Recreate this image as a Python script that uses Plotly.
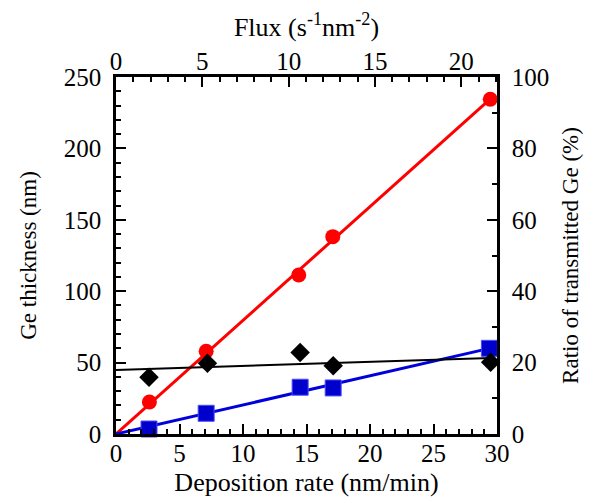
import numpy as np
import plotly.graph_objects as go

# Deposition rate (nm/min) for each sample
rate_thick = [2.63, 7.1, 14.39, 17.07, 29.47]
ge_thickness = [22.4, 57.9, 111.3, 138.2, 234.4]          # nm (left axis)

rate_blue = [2.6, 7.1, 14.5, 17.1, 29.4]
blue_ratio = [1.4, 5.8, 13.1, 12.9, 24.0]                 # % (right axis)

rate_black = [2.6, 7.2, 14.5, 17.1, 29.5]
black_ratio = [15.9, 19.8, 22.8, 19.1, 20.1]              # % (right axis)

flux_max = 22.07   # top axis range matching 30 nm/min
fit_x = [0, 29.5]

# fits
xr = np.array(rate_thick); yr = np.array(ge_thickness)
k_red = (xr * yr).sum() / (xr * xr).sum()
xb = np.array(rate_blue); yb = np.array(blue_ratio)
k_blue = (xb * yb).sum() / (xb * xb).sum()
p_black = np.polyfit(rate_black, black_ratio, 1)
fx = np.array(fit_x)

FONT = "Liberation Serif, Times New Roman, Times, serif"
HS = 25   # horizontal text size
TS = 26   # horizontal title size
VS = 23   # vertical title size
fig = go.Figure()

fig.add_trace(go.Scatter(x=fx, y=k_red * fx, mode="lines",
                         line=dict(color="#ff0000", width=3), yaxis="y", showlegend=False))
fig.add_trace(go.Scatter(x=fx, y=k_blue * fx, mode="lines",
                         line=dict(color="#0000dd", width=3), yaxis="y2", showlegend=False))
fig.add_trace(go.Scatter(x=fx, y=np.polyval(p_black, fx), mode="lines",
                         line=dict(color="#000000", width=2), yaxis="y2", showlegend=False))

fig.add_trace(go.Scatter(x=rate_thick, y=ge_thickness, mode="markers", yaxis="y",
                         marker=dict(symbol="circle", size=15, color="#ff0000"),
                         cliponaxis=False, showlegend=False))
fig.add_trace(go.Scatter(x=rate_blue, y=blue_ratio, mode="markers", yaxis="y2",
                         marker=dict(symbol="square", size=16, color="#0000cc",
                                     line=dict(color="#4d4dff", width=1)),
                         cliponaxis=False, showlegend=False))
fig.add_trace(go.Scatter(x=rate_black, y=black_ratio, mode="markers", yaxis="y2",
                         marker=dict(symbol="diamond", size=15, color="#000000"),
                         cliponaxis=False, showlegend=False))
fig.add_trace(go.Scatter(x=[None], y=[None], xaxis="x2", yaxis="y", showlegend=False))

axis_common = dict(showgrid=False, zeroline=False, showline=True, linecolor="black",
                   linewidth=2.5, ticks="inside", ticklen=10, tickwidth=2, tickcolor="black",
                   tickfont=dict(family=FONT, size=HS, color="black"))
minor_x = dict(dtick=1, ticks="inside", ticklen=5, tickwidth=2, tickcolor="black")
minor_y = dict(dtick=10, ticks="inside", ticklen=5, tickwidth=2, tickcolor="black")

fig.update_layout(
    width=593, height=503,
    margin=dict(l=108, r=104, t=69, b=77),
    plot_bgcolor="white", paper_bgcolor="white",
    font=dict(family=FONT, size=HS, color="black"),
    xaxis=dict(range=[0, 30], dtick=5, minor=minor_x,
               title=dict(text="Deposition rate (nm/min)", font=dict(family=FONT, size=TS), standoff=8),
               ticklabelstandoff=-5,
               **axis_common),
    xaxis2=dict(range=[0, flux_max], dtick=5, overlaying="x", side="top", anchor="y", minor=minor_x,
                title=dict(text="Flux (s<sup>-1</sup>nm<sup>-2</sup>)", font=dict(family=FONT, size=TS), standoff=5),
                ticklabelstandoff=-6,
                **axis_common),
    yaxis=dict(range=[0, 250], dtick=50, minor=minor_y,
               title=dict(text="Ge thickness (nm)", font=dict(family=FONT, size=VS), standoff=21),
               ticklabelstandoff=7,
               **axis_common),
    yaxis2=dict(range=[0, 100], dtick=20, overlaying="y", side="right", anchor="x", minor=minor_y,
                title=dict(text="Ratio of transmitted Ge (%)", font=dict(family=FONT, size=VS), standoff=14),
                ticklabelstandoff=7,
                **axis_common),
)

fig.write_html("out.html")
